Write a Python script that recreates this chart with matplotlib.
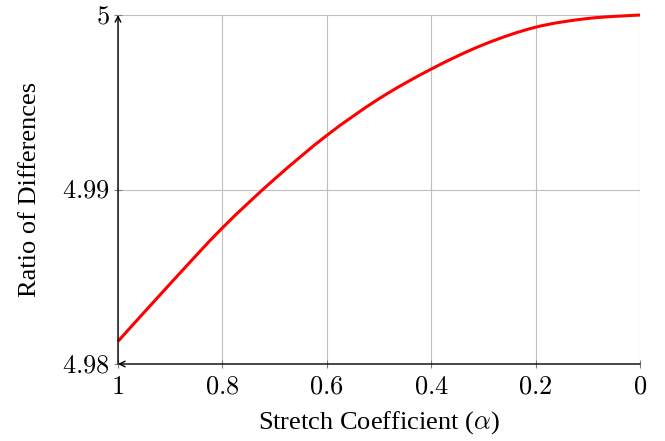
import matplotlib
matplotlib.use("Agg")
import matplotlib.pyplot as plt
from matplotlib.path import Path
from matplotlib.patches import PathPatch

plt.rcParams['mathtext.fontset'] = 'cm'
plt.rcParams['font.family'] = ['Liberation Serif', 'DejaVu Serif']

alpha = [1.0, 0.9, 0.8, 0.7, 0.6, 0.5, 0.4, 0.3, 0.2, 0.1, 0.0]
ratio = [4.9813, 4.9846, 4.9878, 4.9906, 4.9931, 4.9952, 4.9969,
         4.9983, 4.9993, 4.9998, 5.0]
xticks = [1, 0.8, 0.6, 0.4, 0.2, 0]
xticklabels = ['$1$', '$0.8$', '$0.6$', '$0.4$', '$0.2$', '$0$']
yticks = [4.98, 4.99, 5.0]
yticklabels = ['$4.98$', '$4.99$', '$5$']

fig = plt.figure(figsize=(6.65, 4.41), dpi=100)
ax = fig.add_axes([118/665, 77/441, 522/665, 349/441])

# smooth curve through the data points (Catmull-Rom as cubic Bezier)
pts = list(zip(alpha, ratio))
n = len(pts)
verts = [pts[0]]
codes = [Path.MOVETO]
for i in range(n - 1):
    p0 = pts[max(i - 1, 0)]
    p1 = pts[i]
    p2 = pts[i + 1]
    p3 = pts[min(i + 2, n - 1)]
    c1 = (p1[0] + (p2[0] - p0[0]) / 6, p1[1] + (p2[1] - p0[1]) / 6)
    c2 = (p2[0] - (p3[0] - p1[0]) / 6, p2[1] - (p3[1] - p1[1]) / 6)
    verts += [c1, c2, p2]
    codes += [Path.CURVE4] * 3
patch = PathPatch(Path(verts, codes), facecolor='none', edgecolor='red',
                  lw=2.2, clip_on=False, zorder=3, transform=ax.transData)
ax.add_patch(patch)

ax.set_xlim(1, 0)
ax.set_ylim(4.98, 5.0)
ax.set_xticks(xticks)
ax.set_xticklabels(xticklabels, fontsize=19)
ax.set_yticks(yticks)
ax.set_yticklabels(yticklabels, fontsize=19)
ax.grid(True, color='#bfbfbf', lw=0.8)
for s in ax.spines.values():
    s.set_visible(False)
ax.tick_params(direction='inout', length=6, color='#808080', width=0.8, pad=3)
ax.tick_params(axis='x', pad=6)
ax.annotate('', xy=(0, 1), xytext=(0, 0), xycoords='axes fraction',
            arrowprops=dict(arrowstyle='->', color='black', lw=1.0,
                            shrinkA=0, shrinkB=0), annotation_clip=False)
ax.annotate('', xy=(0, 0), xytext=(1, 0), xycoords='axes fraction',
            arrowprops=dict(arrowstyle='->', color='black', lw=1.0,
                            shrinkA=0, shrinkB=0), annotation_clip=False)
ax.set_xlabel(r'Stretch Coefficient ($\alpha$)', fontsize=19, labelpad=8)
ax.set_ylabel('Ratio of Differences', fontsize=19, labelpad=15)
fig.savefig('out.png', dpi=100)
